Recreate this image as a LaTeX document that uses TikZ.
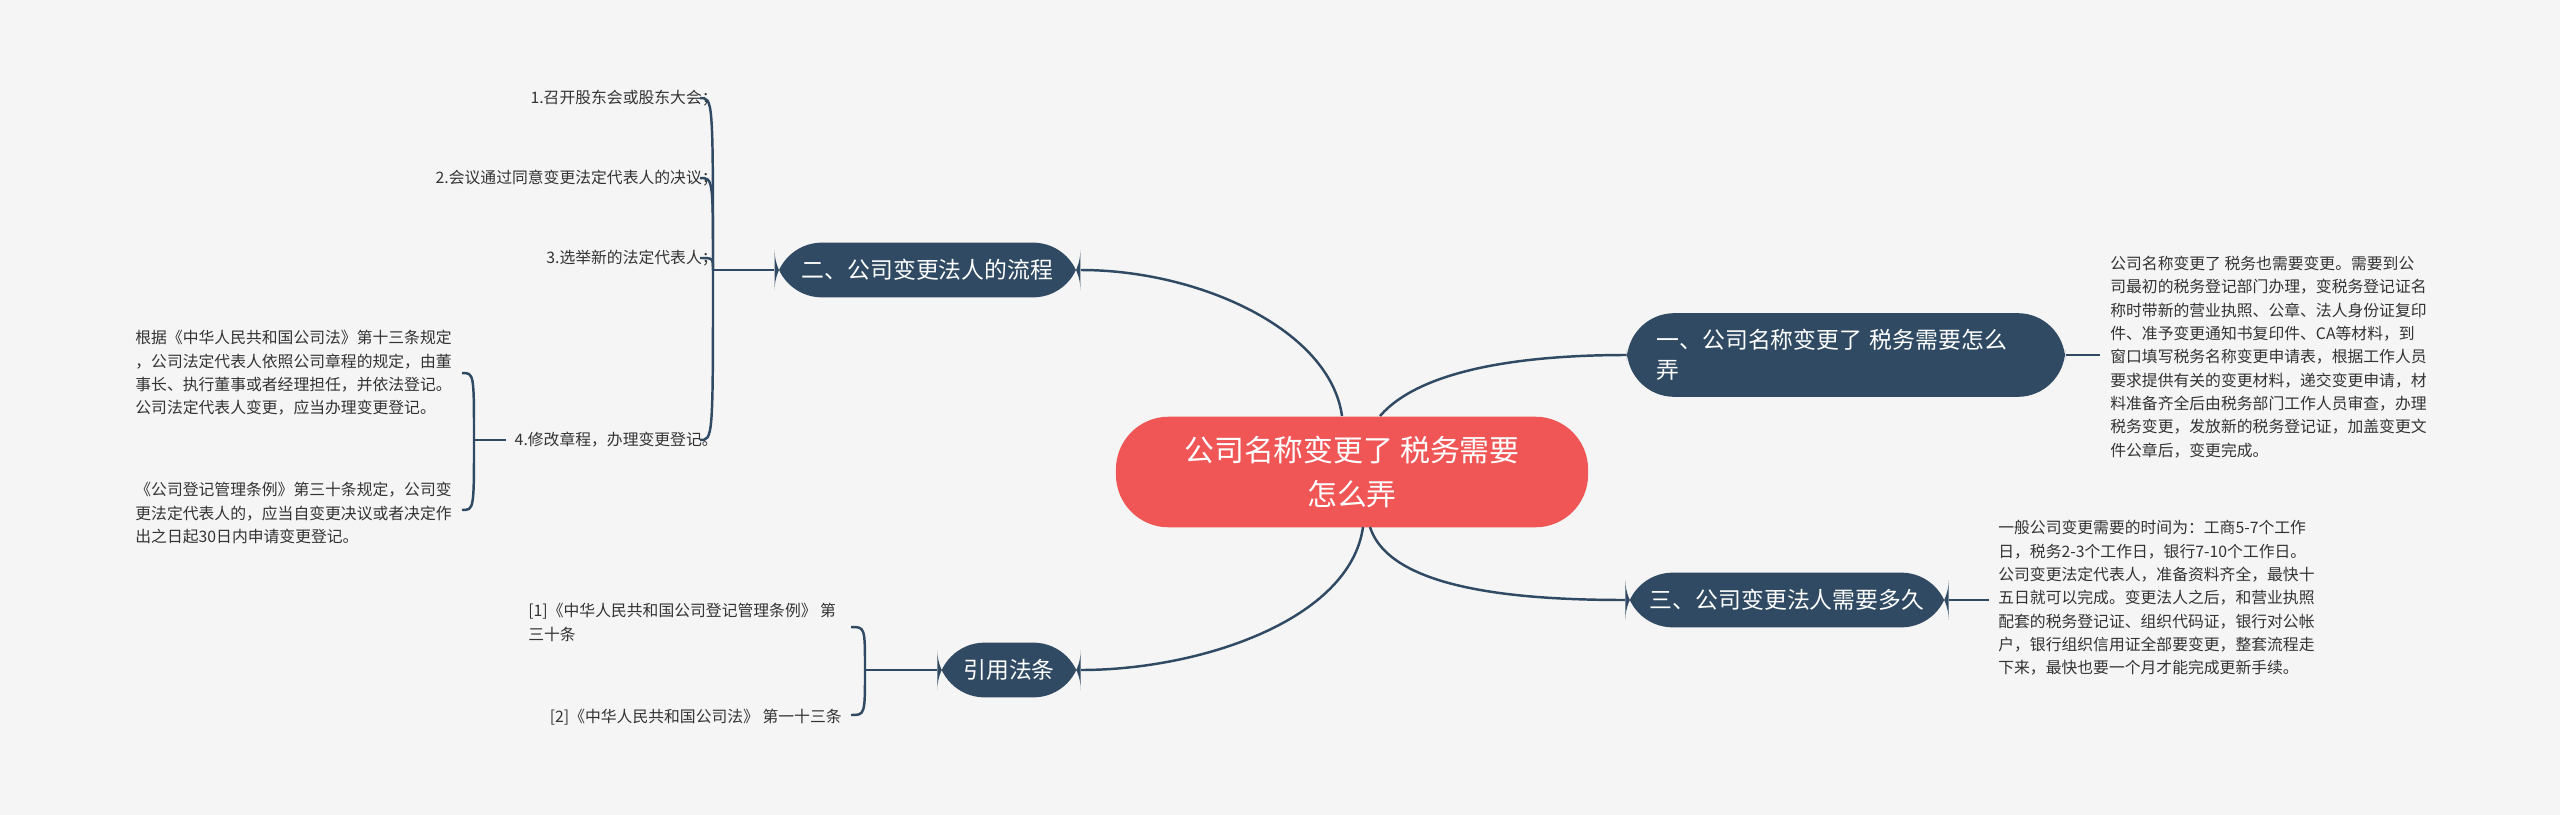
\documentclass[tikz,border=0pt]{standalone}
\usepackage{fontspec}
\setmainfont{Noto Sans CJK SC}
\definecolor{bg}{HTML}{F5F5F5}
\definecolor{dk}{HTML}{2F4A62}
\definecolor{rd}{HTML}{F05656}
\definecolor{tx}{HTML}{333333}
\begin{document}
\begin{tikzpicture}[x=0.02cm,y=-0.02cm,
  br/.style={fill=dk,text=white,rounded corners=27pt,font=\fontsize{13}{17}\selectfont,inner xsep=14pt,inner ysep=0pt,align=left},
  leaf/.style={text=tx,font=\fontsize{9}{13.3}\selectfont,inner sep=0pt},
  ln/.style={draw=dk,line width=1.4pt}]
\fill[bg] (0,0) rectangle (2560,815);
\useasboundingbox (0,0) rectangle (2560,815);
\node[fill=rd,text=white,rounded corners=30pt,minimum width=474*0.567pt,minimum height=111*0.567pt,align=center,font=\fontsize{17}{25}\selectfont] (c) at (1352,472) {公司名称变更了 税务需要\\怎么弄};
\node[br,minimum width=307*0.567pt,minimum height=55*0.567pt,align=center] (b2) at (927.5,270) {二、公司变更法人的流程};
\node[br,minimum width=440*0.567pt,minimum height=84*0.567pt,text width=380*0.567pt] (b1) at (1846,355) {一、公司名称变更了 税务需要怎么\\弄};
\node[br,minimum width=322*0.567pt,minimum height=55*0.567pt,align=center] (b3) at (1787,600) {三、公司变更法人需要多久};
\node[br,minimum width=144*0.567pt,minimum height=55*0.567pt,align=center] (b4) at (1009,670) {引用法条};
% center links
\draw[ln] (1342,416) .. controls (1330,330) and (1200,270) .. (b2.east);
\draw[ln] (1380,416) .. controls (1420,370) and (1520,355) .. (b1.west);
\draw[ln] (1370,527) .. controls (1390,590) and (1520,600) .. (b3.west);
\draw[ln] (1363,527) .. controls (1350,620) and (1200,670) .. (b4.east);
% branch 2 leaves
\coordinate (j2) at (713,270);
\draw[ln] (b2.west) -- (j2);
\node[leaf,anchor=east] (l1) at (718,98) {1.召开股东会或股东大会；};
\node[leaf,anchor=east] (l2) at (718,178) {2.会议通过同意变更法定代表人的决议；};
\node[leaf,anchor=east] (l3) at (718,258) {3.选举新的法定代表人；};
\node[leaf,anchor=east] (l4) at (718,440) {4.修改章程，办理变更登记。};
\foreach \y in {98,178,258,440}
  \draw[ln] (j2) .. controls (713,\y) and (713,\y) .. (700,\y);
% leaf 4 sub
\coordinate (j4) at (474,440);
\draw[ln] (l4.west) ++(-8,0) -- (j4);
\node[leaf,anchor=east,align=left] (s1) at (452,373) {根据《中华人民共和国公司法》第十三条规定\\，公司法定代表人依照公司章程的规定，由董\\事长、执行董事或者经理担任，并依法登记。\\公司法定代表人变更，应当办理变更登记。};
\node[leaf,anchor=east,align=left] (s2) at (452,513) {《公司登记管理条例》第三十条规定，公司变\\更法定代表人的，应当自变更决议或者决定作\\出之日起30日内申请变更登记。};
\draw[ln] (j4) .. controls (474,373) and (474,373) .. (462,373);
\draw[ln] (j4) .. controls (474,510) and (474,510) .. (462,510);
% branch 4 leaves
\coordinate (j5) at (865,670);
\draw[ln] (b4.west) -- (j5);
\node[leaf,anchor=north west,align=left] (r1) at (528,603) {[1]《中华人民共和国公司登记管理条例》 第\\三十条};
\node[leaf,anchor=east] (r2) at (842,717) {[2]《中华人民共和国公司法》 第一十三条};
\draw[ln] (j5) .. controls (865,627) and (865,627) .. (851,627);
\draw[ln] (j5) .. controls (865,715) and (865,715) .. (851,715);
% right leaves
\node[leaf,anchor=west,align=left] (t1) at (2110,357) {公司名称变更了 税务也需要变更。需要到公\\司最初的税务登记部门办理，变税务登记证名\\称时带新的营业执照、公章、法人身份证复印\\件、准予变更通知书复印件、CA等材料，到\\窗口填写税务名称变更申请表，根据工作人员\\要求提供有关的变更材料，递交变更申请，材\\料准备齐全后由税务部门工作人员审查，办理\\税务变更，发放新的税务登记证，加盖变更文\\件公章后，变更完成。};
\draw[ln] (b1.east) -- ++(34,0);
\node[leaf,anchor=west,align=left] (t3) at (1998,598) {一般公司变更需要的时间为：工商5-7个工作\\日，税务2-3个工作日，银行7-10个工作日。\\公司变更法定代表人，准备资料齐全，最快十\\五日就可以完成。变更法人之后，和营业执照\\配套的税务登记证、组织代码证，银行对公帐\\户，银行组织信用证全部要变更，整套流程走\\下来，最快也要一个月才能完成更新手续。};
\draw[ln] (b3.east) -- ++(40,0);
\end{tikzpicture}
\end{document}
